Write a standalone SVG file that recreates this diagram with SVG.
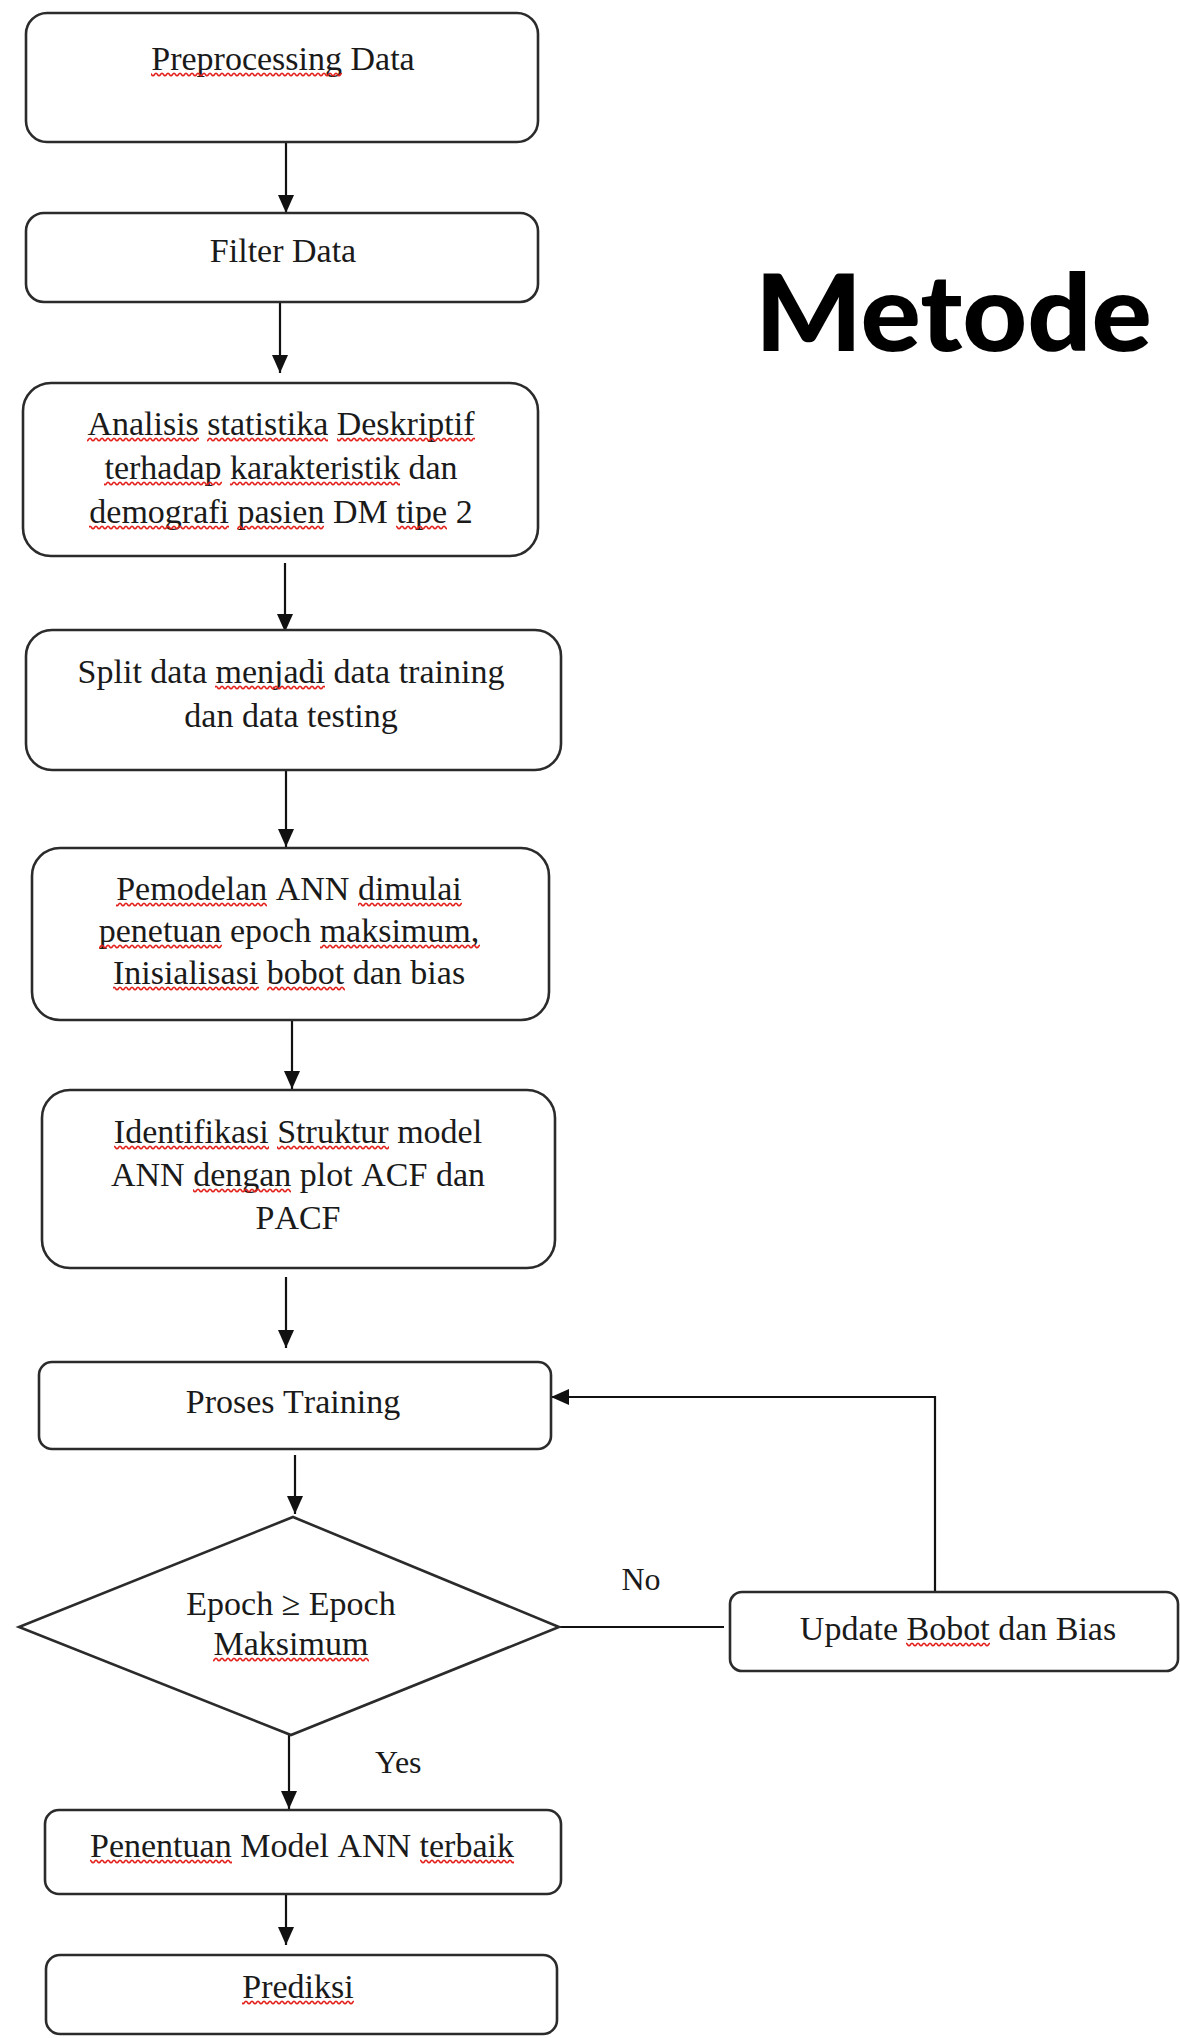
<svg xmlns="http://www.w3.org/2000/svg" width="1180" height="2038" viewBox="0 0 1180 2038">
<defs>
<marker id="ah" markerUnits="userSpaceOnUse" markerWidth="18" markerHeight="16" refX="18" refY="8" orient="auto">
<path d="M0,0 L18,8 L0,16 z" fill="#111"/>
</marker>
<pattern id="wave" patternUnits="userSpaceOnUse" x="0" y="0" width="6" height="5">
<path d="M0,1.2 C1.5,1.2 1.5,3.8 3,3.8 C4.5,3.8 4.5,1.2 6,1.2" fill="none" stroke="#e3201b" stroke-width="1.6"/>
</pattern>
<style>
.box{fill:#fff;stroke:#2b2b2b;stroke-width:2.6}
.t{font-family:"Liberation Serif","Times New Roman",serif;font-size:34px;fill:#1a1a1a;text-anchor:middle;font-kerning:none;font-variant-ligatures:none}
.lbl{font-family:"Liberation Serif","Times New Roman",serif;font-size:32px;fill:#1a1a1a}
.sq{fill:url(#wave)}
.c{fill:none;stroke:#111;stroke-width:2.2}
.ttl{font-family:Lato,"Noto Sans",sans-serif;font-weight:900;font-size:106px;fill:#000}
</style>
</defs>
<rect width="1180" height="2038" fill="#fff"/>

<g id="connectors">
<line class="c" x1="286" y1="142" x2="286" y2="213" marker-end="url(#ah)"/>
<line class="c" x1="280" y1="302" x2="280" y2="373" marker-end="url(#ah)"/>
<line class="c" x1="285" y1="563" x2="285" y2="632" marker-end="url(#ah)"/>
<line class="c" x1="286" y1="770" x2="286" y2="847" marker-end="url(#ah)"/>
<line class="c" x1="292" y1="1017" x2="292" y2="1089" marker-end="url(#ah)"/>
<line class="c" x1="286" y1="1277" x2="286" y2="1348" marker-end="url(#ah)"/>
<line class="c" x1="295" y1="1455" x2="295" y2="1514" marker-end="url(#ah)"/>
<line class="c" x1="289" y1="1735" x2="289" y2="1809" marker-end="url(#ah)"/>
<line class="c" x1="286" y1="1894" x2="286" y2="1945" marker-end="url(#ah)"/>
<line class="c" x1="559" y1="1627" x2="724" y2="1627"/>
<polyline class="c" points="935,1592 935,1397 551,1397" marker-end="url(#ah)"/>
<text class="lbl" x="641" y="1590" text-anchor="middle">No</text>
<text class="lbl" x="375" y="1773">Yes</text>
</g>

<g id="n1">
<rect class="box" x="26" y="13" width="512" height="129" rx="21"/>
<text class="t" x="283" y="70">Preprocessing Data</text>
<rect class="sq" transform="translate(0,72)" x="151" y="0" width="191" height="5"/>
</g>
<g id="n2">
<rect class="box" x="26" y="213" width="512" height="89" rx="18"/>
<text class="t" x="283" y="262">Filter Data</text>
</g>
<g id="n3">
<rect class="box" x="23" y="383" width="515" height="173" rx="28"/>
<text class="t" x="281" y="435">Analisis statistika Deskriptif</text>
<text class="t" x="281" y="479">terhadap karakteristik dan</text>
<text class="t" x="281" y="523">demografi pasien DM tipe 2</text>
<rect class="sq" transform="translate(0,437)" x="87" y="0" width="112" height="5"/>
<rect class="sq" transform="translate(0,437)" x="207" y="0" width="121" height="5"/>
<rect class="sq" transform="translate(0,437)" x="337" y="0" width="138" height="5"/>
<rect class="sq" transform="translate(0,481)" x="104" y="0" width="118" height="5"/>
<rect class="sq" transform="translate(0,481)" x="230" y="0" width="170" height="5"/>
<rect class="sq" transform="translate(0,525)" x="89" y="0" width="140" height="5"/>
<rect class="sq" transform="translate(0,525)" x="237" y="0" width="87" height="5"/>
<rect class="sq" transform="translate(0,525)" x="396" y="0" width="51" height="5"/>
</g>
<g id="n4">
<rect class="box" x="26" y="630" width="535" height="140" rx="26"/>
<text class="t" x="291" y="683">Split data menjadi data training</text>
<text class="t" x="291" y="727">dan data testing</text>
<rect class="sq" transform="translate(0,685)" x="215" y="0" width="110" height="5"/>
</g>
<g id="n5">
<rect class="box" x="32" y="848" width="517" height="172" rx="28"/>
<text class="t" x="289" y="900">Pemodelan ANN dimulai</text>
<text class="t" x="289" y="942">penetuan epoch maksimum,</text>
<text class="t" x="289" y="984">Inisialisasi bobot dan bias</text>
<rect class="sq" transform="translate(0,902)" x="116" y="0" width="151" height="5"/>
<rect class="sq" transform="translate(0,902)" x="358" y="0" width="104" height="5"/>
<rect class="sq" transform="translate(0,944)" x="99" y="0" width="123" height="5"/>
<rect class="sq" transform="translate(0,944)" x="320" y="0" width="160" height="5"/>
<rect class="sq" transform="translate(0,986)" x="113" y="0" width="146" height="5"/>
<rect class="sq" transform="translate(0,986)" x="267" y="0" width="78" height="5"/>
</g>
<g id="n6">
<rect class="box" x="42" y="1090" width="513" height="178" rx="28"/>
<text class="t" x="298" y="1143">Identifikasi Struktur model</text>
<text class="t" x="298" y="1186">ANN dengan plot ACF dan</text>
<text class="t" x="298" y="1229">PACF</text>
<rect class="sq" transform="translate(0,1145)" x="114" y="0" width="155" height="5"/>
<rect class="sq" transform="translate(0,1145)" x="277" y="0" width="112" height="5"/>
<rect class="sq" transform="translate(0,1188)" x="193" y="0" width="98" height="5"/>
</g>
<g id="n7">
<rect class="box" x="39" y="1362" width="512" height="87" rx="13"/>
<text class="t" x="293" y="1413">Proses Training</text>
</g>
<g id="n8">
<polygon class="box" points="293,1517 559,1627 291,1735 19,1627"/>
<text class="t" x="291" y="1615">Epoch ≥ Epoch</text>
<text class="t" x="291" y="1655">Maksimum</text>
<rect class="sq" transform="translate(0,1657)" x="213" y="0" width="156" height="5"/>
</g>
<g id="n9">
<rect class="box" x="730" y="1592" width="448" height="79" rx="12"/>
<text class="t" x="958" y="1640">Update Bobot dan Bias</text>
<rect class="sq" transform="translate(0,1642)" x="906" y="0" width="84" height="5"/>
</g>
<g id="n10">
<rect class="box" x="45" y="1810" width="516" height="84" rx="14"/>
<text class="t" x="302" y="1857">Penentuan Model ANN terbaik</text>
<rect class="sq" transform="translate(0,1859)" x="90" y="0" width="142" height="5"/>
<rect class="sq" transform="translate(0,1859)" x="420" y="0" width="94" height="5"/>
</g>
<g id="n11">
<rect class="box" x="46" y="1955" width="511" height="79" rx="14"/>
<text class="t" x="298" y="1998">Prediksi</text>
<rect class="sq" transform="translate(0,2000)" x="242" y="0" width="112" height="5"/>
</g>
<g id="title">
<text class="ttl" x="755" y="351" textLength="397" lengthAdjust="spacingAndGlyphs">Metode</text>
</g>
</svg>
